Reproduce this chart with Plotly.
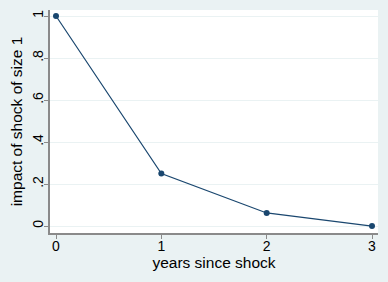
import plotly.graph_objects as go

years = [0, 1, 2, 3]
impact = [1.0, 0.25, 0.0625, 0.0]
y_ticks = [0, 0.2, 0.4, 0.6, 0.8, 1]
y_labels = ["0", ".2", ".4", ".6", ".8", "1"]
x_ticks = [0, 1, 2, 3]

fig = go.Figure()
fig.add_trace(go.Scatter(
    x=years, y=impact, mode="lines+markers",
    line=dict(color="#1A476F", width=1.2),
    marker=dict(color="#1A476F", size=6),
))

font = "Liberation Sans, Arial, sans-serif"
fig.update_layout(
    width=388, height=282,
    margin=dict(l=50, r=10, t=10, b=49),
    paper_bgcolor="#EAF2F3", plot_bgcolor="white",
    showlegend=False,
    font=dict(family=font, size=15.5, color="black"),
)
fig.update_xaxes(
    range=[-0.057, 3.057], tickvals=x_ticks, ticktext=[str(v) for v in x_ticks],
    showgrid=False, zeroline=False,
    showline=True, linecolor="#8a8a8a", linewidth=1.5,
    ticks="outside", ticklen=4, tickcolor="#8a8a8a",
    ticklabelstandoff=-5,
    title=dict(text="years since shock", font=dict(size=15.5), standoff=0),
    tickfont=dict(size=14),
)
fig.update_yaxes(
    range=[-0.033, 1.0286], tickvals=y_ticks, ticktext=y_labels,
    tickangle=-90,
    showgrid=True, gridcolor="#EAF2F3", gridwidth=1, zeroline=False,
    showline=True, linecolor="#8a8a8a", linewidth=1.5,
    ticks="outside", ticklen=4, tickcolor="#8a8a8a",
    ticklabelstandoff=-4,
    title=dict(text="impact of shock of size 1", font=dict(size=15.5), standoff=3),
    tickfont=dict(size=14),
)

fig.write_html(
    "out.html",
    config={"displayModeBar": False},
    post_script="document.body.style.margin='0';document.body.style.overflow='hidden';",
)
